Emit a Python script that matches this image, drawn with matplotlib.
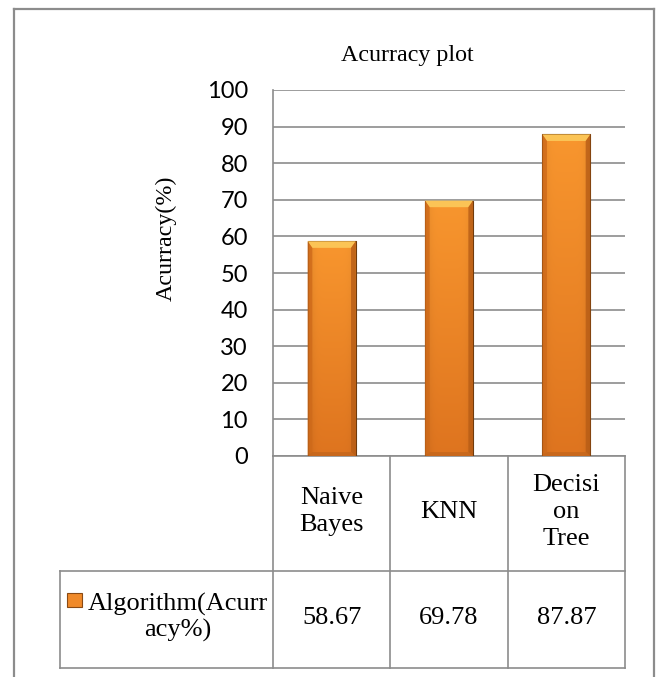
import matplotlib
matplotlib.use("Agg")
import matplotlib.pyplot as plt
import numpy as np
from matplotlib.patches import Rectangle, Polygon
from matplotlib.transforms import blended_transform_factory
from matplotlib.colors import to_rgb

# data
categories = ["Naive\nBayes", "KNN", "Decisi\non\nTree"]
accuracy = [58.67, 69.78, 87.87]
value_labels = ["58.67", "69.78", "87.87"]
series_name = "Algorithm(Acurr\nacy%)"
yticks = list(range(0, 101, 10))

serif = "Liberation Serif"
grid_c = "#8c8c8c"

fig = plt.figure(figsize=(6.57, 6.77), dpi=100)
ax = fig.add_axes([273 / 657, 1 - 456 / 677, 352 / 657, 366 / 677])

# outer chart frame (no bottom edge, it runs off the picture)
fr = dict(color=grid_c, lw=1.6, transform=fig.transFigure, clip_on=False)
fx0, fx1, fy = 14 / 657, 654 / 657, 1 - 9 / 677
fig.add_artist(plt.Line2D([fx0, fx0], [0, fy], **fr))
fig.add_artist(plt.Line2D([fx1, fx1], [0, fy], **fr))
fig.add_artist(plt.Line2D([fx0, fx1], [fy, fy], **fr))

ax.set_xlim(-0.5, 2.5)
ax.set_ylim(0, 100)
ax.set_yticks(yticks)
ax.set_xticks([])
for s in ["top", "right", "bottom"]:
    ax.spines[s].set_visible(False)
ax.spines["left"].set_color(grid_c)
ax.spines["left"].set_linewidth(1.2)
ax.tick_params(axis="y", length=0, pad=18, labelsize=17)
for t in ax.get_yticklabels():
    t.set_fontfamily("Lato")
ax.yaxis.grid(True, color=grid_c, lw=1.2)
ax.set_axisbelow(True)

# bars with bevel look
bw = 0.41
bars = ax.bar(range(len(accuracy)), accuracy, width=bw, color="none",
              edgecolor="#6e3a0c", lw=0.8, zorder=3)
top_c = np.array(to_rgb("#F8962E"))
bot_c = np.array(to_rgb("#DE741F"))
for b, h in zip(bars, accuracy):
    x0 = b.get_x()
    x1 = x0 + b.get_width()
    ny, nx = 200, 60
    fy_ = np.linspace(1, 0, ny)[:, None, None]
    img = bot_c + (top_c - bot_c) * fy_
    xx = np.linspace(-1, 1, nx)[None, :, None]
    shade = 1 - 0.15 * np.abs(xx) ** 6
    img = np.clip(img * shade, 0, 1)
    im = ax.imshow(img, extent=[x0, x1, 0, h], aspect="auto", zorder=2,
                   interpolation="bilinear")
    im.set_clip_path(b)
    d = 0.04
    bev = 1.8
    ax.add_patch(Polygon([[x0, h], [x1, h], [x1 - d, h - bev], [x0 + d, h - bev]],
                         closed=True, color="#FBC456", lw=0, zorder=3.5))
    ax.add_patch(Polygon([[x0, 0], [x0 + d, bev * 0.6], [x0 + d, h - bev], [x0, h]],
                         closed=True, color="#CF6A1A", lw=0, zorder=3.5, alpha=0.8))
    ax.add_patch(Polygon([[x1, 0], [x1 - d, bev * 0.6], [x1 - d, h - bev], [x1, h]],
                         closed=True, color="#B85D16", lw=0, zorder=3.5, alpha=0.8))
    ax.add_patch(Polygon([[x0, 0], [x1, 0], [x1 - d, bev * 0.6], [x0 + d, bev * 0.6]],
                         closed=True, color="#C4661C", lw=0, zorder=3.5, alpha=0.8))

ax.set_ylabel("Acurracy(%)", family=serif, fontsize=17.3)
ax.yaxis.set_label_coords(-0.273, 0.596)
fig.text(407 / 657, 1 - 56 / 677, "Acurracy plot", family=serif, fontsize=17.3,
         ha="center", va="center")

# data table under the axis
tr = blended_transform_factory(ax.transData, ax.transAxes)
r1 = (456 - 571) / 366
r2 = (456 - 668) / 366
leg_x = (60 - 273) / 352
lk = dict(color=grid_c, lw=1.2, clip_on=False, zorder=1)
ax.plot([-0.5, 2.5], [0, 0], transform=tr, **lk)
ax.plot([2.5, 2.5], [0, r2], transform=tr, **lk)
for i in range(len(categories)):
    ax.plot([i - 0.5, i - 0.5], [0, r2], transform=tr, **lk)
ax.plot([leg_x, 1], [r1, r1], transform=ax.transAxes, **lk)
ax.plot([leg_x, 1], [r2, r2], transform=ax.transAxes, **lk)
ax.plot([leg_x, leg_x], [r1, r2], transform=ax.transAxes, **lk)

for i, (c, v) in enumerate(zip(categories, value_labels)):
    ax.text(i, r1 / 2 + 0.005, c, transform=tr, ha="center", va="center",
            family=serif, fontsize=19, linespacing=1.3)
    ax.text(i, (r1 + r2) / 2 + 0.005, v, transform=tr, ha="center", va="center",
            family=serif, fontsize=19)

ax.text((178 - 273) / 352, (r1 + r2) / 2 + 0.005, series_name, transform=ax.transAxes,
        ha="center", va="center", family=serif, fontsize=19, linespacing=1.15,
        multialignment="center")
ax.add_patch(Rectangle(((67 - 273) / 352, (456 - 607) / 366), 15 / 352, 14 / 366,
                       transform=ax.transAxes, facecolor="#F08A2A",
                       edgecolor="#8a4a14", lw=0.8, clip_on=False))

fig.savefig("out.png", dpi=100)
